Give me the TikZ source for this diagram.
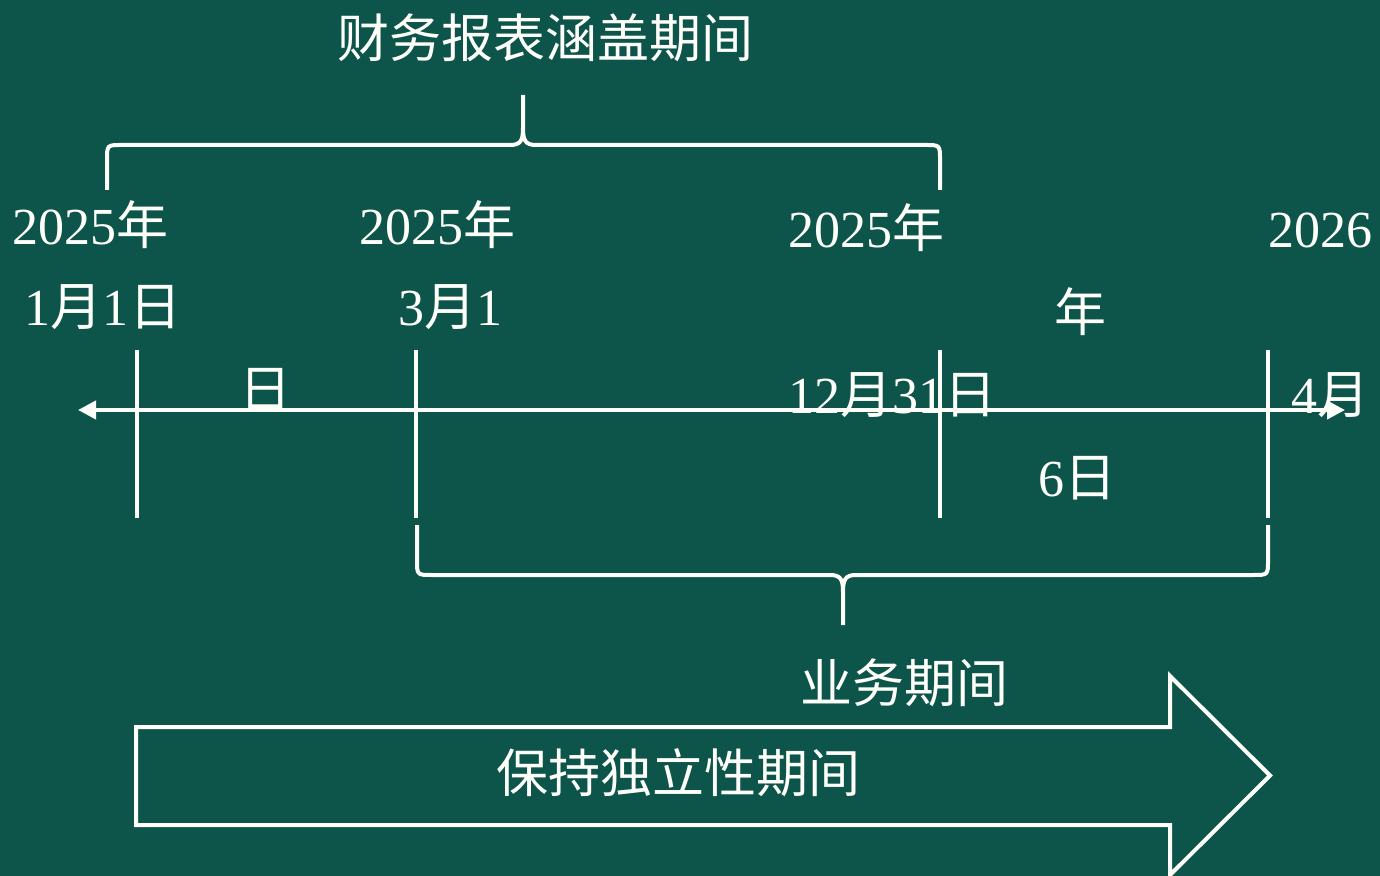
\documentclass[tikz,border=0pt]{standalone}
\usepackage{fontspec}
\setmainfont{Liberation Serif}
\newfontfamily\cjk{Noto Sans CJK SC}
\usetikzlibrary{arrows.meta}
\definecolor{bgc}{RGB}{13,84,74}
\definecolor{fgc}{RGB}{255,255,250}
\newcommand\cj[1]{{\cjk #1}}
\tikzset{
  lbl/.style={text=fgc, font=\fontsize{26pt}{30pt}\selectfont, inner sep=0pt, anchor=center},
  wline/.style={draw=fgc, line width=2pt},
}
\begin{document}
\begin{tikzpicture}[x=0.5pt,y=-0.5pt]
\fill[bgc] (0,0) rectangle (1380,876);
\useasboundingbox (0,0) rectangle (1380,876);
% coordinates
\coordinate (tl) at (78,410);
\coordinate (tr) at (1345,410);
\foreach \n/\x in {a/137,b/416,c/940,d/1268}{
  \coordinate (\n top) at (\x,350);
  \coordinate (\n bot) at (\x,518);
}
% timeline
\draw[wline, {Triangle[length=9pt,width=9pt]}-{Triangle[length=9pt,width=9pt]}] (tl) -- (tr);
\foreach \n in {a,b,c,d}{\draw[wline] (\n top) -- (\n bot);}
% top brace
\coordinate (tb1) at (107,190);
\coordinate (tb2) at (940,190);
\coordinate (tbm) at (523,95);
\draw[wline, line join=round]
  (tb1) -- (107,160) .. controls (107,145) .. (122,145) -- (510,145)
  .. controls (521,145) and (523,140) .. (523,128) -- (tbm)
  (523,128) .. controls (523,140) and (525,145) .. (536,145) -- (925,145)
  .. controls (940,145) .. (940,160) -- (tb2);
% bottom brace
\coordinate (bb1) at (417,525);
\coordinate (bb2) at (1268,525);
\coordinate (bbm) at (843,625);
\draw[wline, line join=round]
  (bb1) -- (417,560) .. controls (417,575) .. (432,575) -- (830,575)
  .. controls (841,575) and (843,580) .. (843,592) -- (bbm)
  (843,592) .. controls (843,580) and (845,575) .. (856,575) -- (1253,575)
  .. controls (1268,575) .. (1268,560) -- (bb2);
% big arrow
\draw[wline, line join=miter]
  (136,727) -- (1170,727) -- (1170,676) -- (1270,775.5) -- (1170,875) -- (1170,825) -- (136,825) -- cycle;
% labels
\node[lbl] (title) at (545,38) {\cj{财务报表涵盖期间}};
\node[lbl] (y1a) at (90,225) {2025\cj{年}};
\node[lbl] (y1b) at (103,307) {1\cj{月}1\cj{日}};
\node[lbl] (y1c) at (265,390) {\cj{日}};
\node[lbl] (y2a) at (437,225) {2025\cj{年}};
\node[lbl] (y2b) at (450,307) {3\cj{月}1};
\node[lbl] (y3a) at (866,228) {2025\cj{年}};
\node[lbl] (y3b) at (892,395) {12\cj{月}31\cj{日}};
\node[lbl] (y4c) at (1080,312) {\cj{年}};
\node[lbl] (y4d) at (1077,478) {6\cj{日}};
\node[lbl] (y4a) at (1320,230) {2026};
\node[lbl] (y4b) at (1330,395) {4\cj{月}};
\node[lbl] (biz) at (904,683) {\cj{业务期间}};
\node[lbl] (ind) at (678,773) {\cj{保持独立性期间}};
\end{tikzpicture}
\end{document}
